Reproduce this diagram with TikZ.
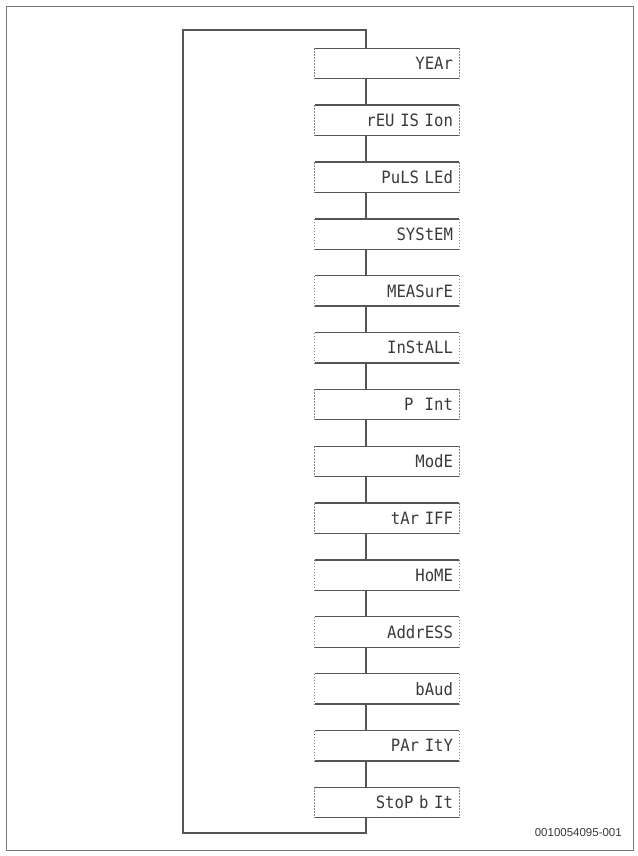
\documentclass[tikz,border=0pt]{standalone}
\usepackage{fontspec}
\setmainfont{Liberation Sans}
\newfontfamily\segfont{DejaVu Sans Mono}[FakeStretch=0.92]
\definecolor{linegrey}{HTML}{555555}
\definecolor{txtgrey}{HTML}{3A3A3A}
\tikzset{
  dispbox/.style={minimum width=144pt, minimum height=30pt, inner xsep=6pt, inner ysep=0pt,
    text width=132pt, align=right, font=\segfont\fontsize{17}{17}\selectfont, text=txtgrey,
    text height=12.3pt, text depth=0pt},
  solidedge/.style={draw=linegrey, line width=1.3pt},
  dotedge/.style={draw=linegrey!70, line width=1.1pt, dash pattern=on 1.5pt off 1.5pt},
  conn/.style={draw=linegrey, line width=1.3pt},
  frame/.style={draw=linegrey!80, line width=1.2pt}
}
\begin{document}
\begin{tikzpicture}[x=1pt, y=-1pt]
\useasboundingbox (0,0) rectangle (637,856);
\draw[frame] (6.5,6.5) rectangle (633.5,850.5);
\foreach \t [count=\i] in {YEAr, rEU IS Ion, PuLS LEd, SYStEM, MEASurE, InStALL, P\ \ Int, ModE, tAr IFF, HoME, AddrESS, bAud, PAr ItY, StoP b It}{
  \node[dispbox] (b\i) at (387, {63.5+(\i-1)*56.85}) {\t};
  \draw[solidedge] (b\i.north west) -- (b\i.north east);
  \draw[solidedge] (b\i.south west) -- (b\i.south east);
  \draw[dotedge] (b\i.north west) -- (b\i.south west);
  \draw[dotedge] (b\i.north east) -- (b\i.south east);
}
\coordinate (lt) at (366,30);
\coordinate (ltl) at (183,30);
\coordinate (lbl) at (183,833);
\coordinate (lb) at (366,833);
\draw[conn] (b1.north -| lt) -- (lt) -- (ltl) -- (lbl) -- (lb) -- (b14.south -| lb);
\foreach \i [evaluate=\i as \j using int(\i+1)] in {1,...,13}{
  \draw[conn] (b\i.south -| lt) -- (b\j.north -| lt);
}
\node[font=\fontsize{11.5}{12}\selectfont, text=txtgrey, anchor=east, inner sep=0pt] (code) at (622,833) {0010054095-001};
\end{tikzpicture}
\end{document}
